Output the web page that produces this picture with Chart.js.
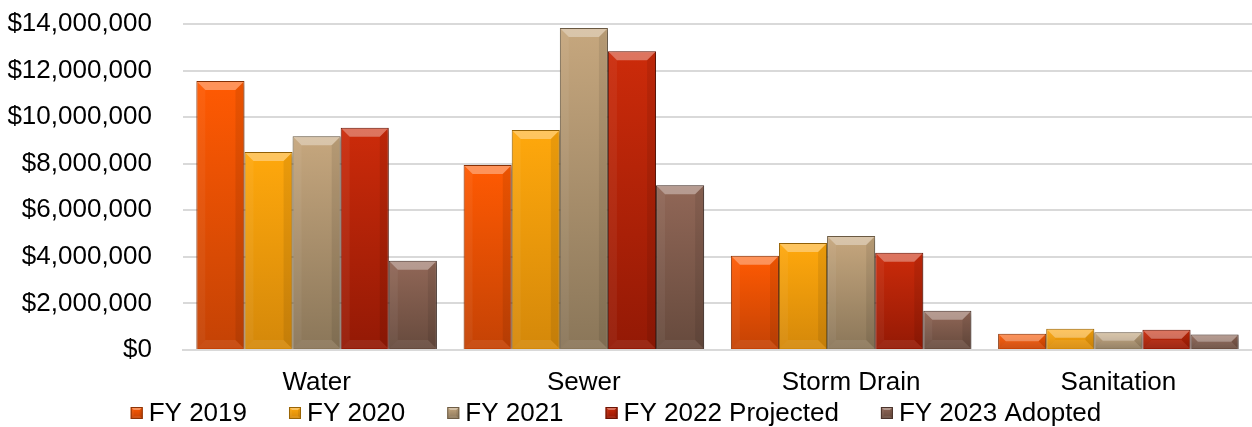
<!DOCTYPE html>
<html>
<head>
<meta charset="utf-8">
<title>Fund Expenditures</title>
<script src="https://cdn.jsdelivr.net/npm/chart.js@4/dist/chart.umd.min.js"></script>
<style>
  body { margin: 0; background: #fff; }
  #wrap { width: 1252px; height: 427px; }
</style>
</head>
<body>
<div id="wrap"><canvas id="chart" width="1252" height="427"></canvas></div>
<script>
// Data
const categories = ["Water", "Sewer", "Storm Drain", "Sanitation"];
const seriesNames = ["FY 2019", "FY 2020", "FY 2021", "FY 2022 Projected", "FY 2023 Adopted"];
const fy2019 = [11550000, 7950000, 4050000, 700000];
const fy2020 = [8500000, 9450000, 4590000, 910000];
const fy2021 = [9180000, 13830000, 4900000, 760000];
const fy2022 = [9540000, 12830000, 4180000, 870000];
const fy2023 = [3830000, 7080000, 1690000, 670000];
const yTicks = [0, 2000000, 4000000, 6000000, 8000000, 10000000, 12000000, 14000000];

const topColors = ["#FF5A02", "#FFA80C", "#C6A77E", "#CC2B0A", "#916757"];
const bottomColors = ["#C44205", "#D4880A", "#8A7659", "#931905", "#664A3D"];
const borders = ["#8C3306", "#9A6506", "#6E5D45", "#6A1404", "#4A332B"];

const FONT = "Liberation Sans, Arial, sans-serif";

// per-bar vertical gradient, bar top to base
function barFill(i) {
    return function (c) {
        const chart = c.chart;
        if (!chart.chartArea || c.type !== "data") return topColors[i];
        const y = chart.scales.y;
        const top = y.getPixelForValue(c.raw);
        const base = y.getPixelForValue(0);
        if (!(base > top)) return topColors[i];
        const g = chart.ctx.createLinearGradient(0, top, 0, base);
        g.addColorStop(0, topColors[i]);
        g.addColorStop(1, bottomColors[i]);
        return g;
    };
}

function facet(ctx, pts, style) {
    ctx.fillStyle = style;
    ctx.beginPath();
    ctx.moveTo(pts[0][0], pts[0][1]);
    for (let k = 1; k < pts.length; k++) ctx.lineTo(pts[k][0], pts[k][1]);
    ctx.closePath();
    ctx.fill();
}

function bevel(ctx, left, top, right, bottom, b) {
    facet(ctx, [[left, top], [right, top], [right - b, top + b], [left + b, top + b]], "rgba(255,255,255,0.35)");
    facet(ctx, [[left, top], [left + b, top + b], [left + b, bottom - b], [left, bottom]], "rgba(255,255,255,0.05)");
    facet(ctx, [[right, top], [right - b, top + b], [right - b, bottom - b], [right, bottom]], "rgba(0,0,0,0.08)");
    facet(ctx, [[left, bottom], [left + b, bottom - b], [right - b, bottom - b], [right, bottom]], "rgba(255,255,255,0.07)");
}

// bevel facets and drop shadow for the bars
const bevelPlugin = {
    id: "bevel",
    beforeDatasetsDraw(chart) {
        const ctx = chart.ctx;
        ctx.save();
        ctx.shadowColor = "rgba(0,0,0,0.35)";
        ctx.shadowBlur = 5;
        ctx.shadowOffsetX = 2;
        ctx.shadowOffsetY = 2;
    },
    afterDatasetsDraw(chart) {
        const ctx = chart.ctx;
        ctx.restore();
        chart.data.datasets.forEach((ds, i) => {
            chart.getDatasetMeta(i).data.forEach(bar => {
                const left = bar.x - bar.width / 2 + 1;
                const right = bar.x + bar.width / 2 - 1;
                const top = bar.y + 1;
                const bottom = bar.base - 1;
                const h = bottom - top;
                if (h <= 0) return;
                const b = Math.min(8, h / 2, bar.width / 4);
                ctx.save();
                bevel(ctx, left, top, right, bottom, b);
                ctx.restore();
            });
        });
    }
};

// legend row drawn along the bottom edge
const legendRow = {
    id: "legendRow",
    afterDraw(chart) {
        const ctx = chart.ctx;
        const box = 12, gapText = 6, gapItem = 42;
        const centerX = 616, midY = 413;
        ctx.save();
        ctx.font = "26px " + FONT;
        const widths = seriesNames.map(n => ctx.measureText(n).width);
        const total = widths.reduce((a, w) => a + w + box + gapText, 0) + gapItem * (seriesNames.length - 1);
        let x = centerX - total / 2;
        seriesNames.forEach((name, i) => {
            const y0 = midY - box / 2;
            const g = ctx.createLinearGradient(0, y0, 0, y0 + box);
            g.addColorStop(0, topColors[i]);
            g.addColorStop(1, bottomColors[i]);
            ctx.fillStyle = g;
            ctx.fillRect(x, y0, box, box);
            bevel(ctx, x, y0, x + box, y0 + box, 3);
            ctx.strokeStyle = borders[i];
            ctx.lineWidth = 1;
            ctx.strokeRect(x + 0.5, y0 + 0.5, box - 1, box - 1);
            ctx.fillStyle = "#000";
            ctx.textBaseline = "middle";
            ctx.textAlign = "left";
            ctx.fillText(name, x + box + gapText, midY + 1);
            x += box + gapText + widths[i] + gapItem;
        });
        ctx.restore();
    }
};

const seriesValues = [fy2019, fy2020, fy2021, fy2022, fy2023];

const datasets = seriesNames.map((name, i) => ({
    label: name,
    data: seriesValues[i],
    backgroundColor: barFill(i),
    borderColor: borders[i],
    borderWidth: 1,
    barPercentage: 1.0,
    categoryPercentage: 0.9
}));

const ctx = document.getElementById("chart").getContext("2d");
new Chart(ctx, {
    type: "bar",
    data: { labels: categories, datasets: datasets },
    plugins: [bevelPlugin, legendRow],
    options: {
        responsive: false,
        animation: false,
        layout: { padding: { top: 24, right: 0, left: 0, bottom: 0 } },
        plugins: {
            legend: { display: false },
            tooltip: { enabled: false }
        },
        scales: {
            x: {
                afterFit(axis) { axis.height = 77; },
                grid: { display: false, drawTicks: false },
                border: { color: "#d9d9d9", width: 2 },
                ticks: {
                    font: { family: FONT, size: 26 },
                    color: "#000",
                    padding: 17
                }
            },
            y: {
                min: 0,
                max: 14000000,
                afterBuildTicks(axis) {
                    axis.ticks = yTicks.map(v => ({ value: v }));
                },
                afterFit(axis) {
                    // fixed label gutter; the label gap should not push the plot down
                    axis.width = 183;
                    axis.paddingTop = 0;
                    axis.paddingBottom = 0;
                },
                grid: { color: "#d9d9d9", lineWidth: 2, drawTicks: false },
                border: { display: false },
                ticks: {
                    font: { family: FONT, size: 26 },
                    color: "#000",
                    padding: 31,
                    callback: v => "$" + v.toLocaleString("en-US")
                }
            }
        }
    }
});
</script>
</body>
</html>
